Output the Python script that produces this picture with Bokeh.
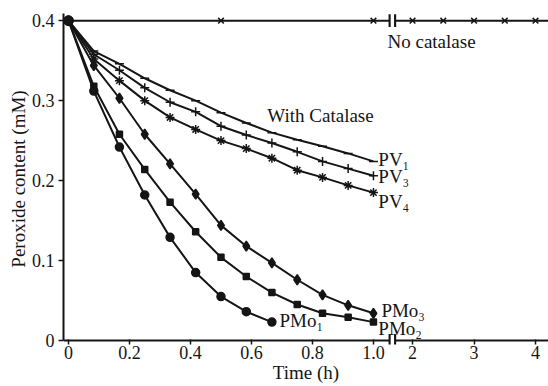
from bokeh.plotting import figure
from bokeh.models import Range1d, FixedTicker, Label, BoxAnnotation, Span
from bokeh.embed import file_html
from bokeh.resources import INLINE

# ---------------- data ----------------
times = [0, 0.083, 0.167, 0.25, 0.333, 0.417, 0.5, 0.583, 0.667, 0.75, 0.833, 0.917, 1.0]
pv1 = [0.4, 0.362, 0.346, 0.328, 0.313, 0.300, 0.285, 0.272, 0.260, 0.251, 0.243, 0.234, 0.224]
pv3 = [0.4, 0.358, 0.338, 0.316, 0.298, 0.286, 0.268, 0.257, 0.247, 0.236, 0.224, 0.215, 0.206]
pv4 = [0.4, 0.352, 0.325, 0.300, 0.279, 0.264, 0.250, 0.240, 0.228, 0.213, 0.204, 0.194, 0.185]
pmo3 = [0.4, 0.344, 0.303, 0.258, 0.221, 0.183, 0.144, 0.118, 0.097, 0.076, 0.057, 0.044, 0.034]
pmo2 = [0.4, 0.318, 0.258, 0.214, 0.173, 0.136, 0.104, 0.080, 0.060, 0.045, 0.034, 0.029, 0.023]
pmo1_times = [0, 0.083, 0.167, 0.25, 0.333, 0.417, 0.5, 0.583, 0.667]
pmo1 = [0.4, 0.312, 0.242, 0.182, 0.129, 0.085, 0.055, 0.036, 0.023]
nocat_times_early = [0, 0.5, 1.0]
nocat_early = [0.4, 0.4, 0.4]
nocat_times_late = [2, 2.5, 3, 3.5, 4]
nocat_late = [0.4, 0.4, 0.4, 0.4, 0.4]

x_ticks_early = [0, 0.2, 0.4, 0.6, 0.8, 1.0]
x_labels_early = ["0", "0.2", "0.4", "0.6", "0.8", "1.0"]
x_ticks_late = [2, 3, 4]
x_labels_late = ["2", "3", "4"]
y_ticks = [0, 0.1, 0.2, 0.3, 0.4]
y_labels = ["0", "0.1", "0.2", "0.3", "0.4"]

FONT = "Liberation Serif"
INK = "#151515"

Y_BOTTOM, Y_TOP = -0.005, 0.409
xr = Range1d(-0.0164, 1.574)
lr = Range1d(-3.675, 4.211)
p = figure(width=548, height=386, output_backend="svg", toolbar_location=None,
           x_range=xr, y_range=Range1d(Y_BOTTOM, Y_TOP),
           min_border_left=63, min_border_right=0, min_border_top=13, min_border_bottom=42)
p.extra_x_ranges = {"late": lr}


def late_to_main(t):
    return round(xr.start + (t - lr.start) * (xr.end - xr.start) / (lr.end - lr.start), 6)


# axes
tick_pos = list(x_ticks_early) + [late_to_main(t) for t in x_ticks_late]
tick_lab = list(x_labels_early) + list(x_labels_late)
p.xaxis.ticker = FixedTicker(ticks=tick_pos)
p.xaxis.major_label_overrides = {k: v for k, v in zip(tick_pos, tick_lab)}
p.yaxis.ticker = FixedTicker(ticks=y_ticks)
p.yaxis.major_label_overrides = {k: v for k, v in zip(y_ticks, y_labels)}
p.xaxis.axis_label = "Time (h)"
p.yaxis.axis_label = "Peroxide content (mM)"
for ax in (p.xaxis, p.yaxis):
    ax.axis_line_width = 2
    ax.axis_line_color = INK
    ax.major_tick_line_color = INK
    ax.major_tick_line_width = 1.5
    ax.minor_tick_line_color = None
    ax.major_label_text_font = FONT
    ax.major_label_text_font_size = "18px"
    ax.major_label_text_color = INK
    ax.axis_label_text_font = FONT
    ax.axis_label_text_font_size = "19px"
    ax.axis_label_text_font_style = "normal"
    ax.axis_label_text_color = INK
    ax.axis_label_standoff = 0
p.yaxis.major_tick_out = 5
p.yaxis.major_tick_in = 0
p.yaxis.major_label_standoff = 4
p.yaxis.bounds = (0, Y_TOP)
# x axis line is drawn as a span at y = 0; the axis itself only carries ticks / labels
p.xaxis.axis_line_color = None
p.xaxis.major_tick_out = 0
p.xaxis.major_tick_in = 5
p.xaxis.major_label_standoff = 1
p.add_layout(Span(location=0, dimension="width", line_color=INK, line_width=2))
p.grid.visible = False
p.outline_line_color = None
p.background_fill_color = "white"
p.border_fill_color = "white"

LW = 2
# No catalase
p.ray(x=[nocat_times_early[0]], y=[nocat_early[0]], length=0, angle=0, line_width=LW, color=INK)
p.scatter(nocat_times_early, nocat_early, marker="x", size=8, line_width=1.5, color=INK)
p.scatter(nocat_times_late, nocat_late, marker="x", size=8, line_width=1.5, color=INK,
          x_range_name="late")

series = [
    (times, pv1, "dash", 9),
    (times, pv3, "cross", 9),
    (times, pv4, "asterisk", 9),
    (times, pmo3, "diamond", 10),
    (times, pmo2, "square", 6),
    (pmo1_times, pmo1, "circle", 8),
]
for xs, ys, mk, sz in series:
    p.line(xs, ys, line_width=LW, color=INK)
    fill = INK if mk in ("diamond", "square", "circle") else None
    p.scatter(xs, ys, marker=mk, size=sz, line_width=1.5, line_color=INK, fill_color=fill)
p.scatter([times[0]], [pv1[0]], marker="circle", size=10, color=INK)

# axis break marks
BREAK_L, BREAK_R = 1.053, 1.071
for yc in (0.4, 0.0):
    p.add_layout(BoxAnnotation(left=BREAK_L, right=BREAK_R, bottom=yc - 0.009, top=yc + 0.009,
                               fill_color="white", fill_alpha=1, line_color=None))
    for bx in (BREAK_L, BREAK_R):
        p.add_layout(BoxAnnotation(left=bx - 0.0035, right=bx + 0.0035, bottom=yc - 0.008,
                                   top=yc + 0.008, fill_color=INK, fill_alpha=1, line_color=None))

# text labels
labels = [
    ("No catalase", 1.046, 0.374),
    ("With Catalase", 0.652, 0.281),
    ("PV\u2081", 1.016, 0.226),
    ("PV\u2083", 1.016, 0.205),
    ("PV\u2084", 1.016, 0.1735),
    ("PMo\u2083", 1.026, 0.038),
    ("PMo\u2082", 1.016, 0.0155),
    ("PMo\u2081", 0.692, 0.025),
]
for txt, x, y in labels:
    p.add_layout(Label(x=x, y=y, text=txt, text_font=FONT, text_font_size="19px",
                       text_color=INK, text_baseline="middle", text_align="left"))

open("out.html", "w").write(file_html(p, INLINE))
